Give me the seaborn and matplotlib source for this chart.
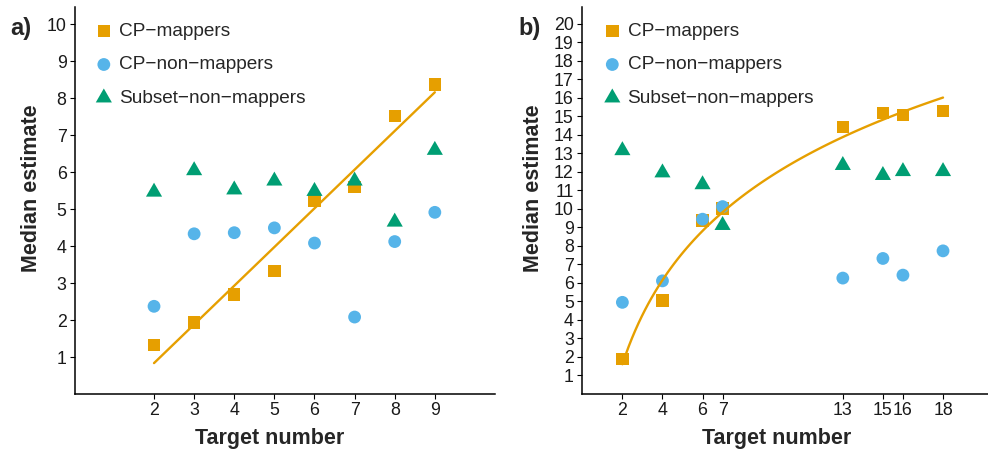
import numpy as np
import pandas as pd
import matplotlib
matplotlib.use("Agg")
import matplotlib.pyplot as plt
import seaborn as sns

# ---------------- data ----------------
groups = ["CP\u2212mappers", "CP\u2212non\u2212mappers", "Subset\u2212non\u2212mappers"]

a_targets = [2, 3, 4, 5, 6, 7, 8, 9]
a_cp_mappers = [1.32, 1.93, 2.69, 3.33, 5.22, 5.59, 7.51, 8.37]
a_cp_non_mappers = [2.37, 4.33, 4.36, 4.49, 4.08, 2.08, 4.12, 4.91]
a_subset_non_mappers = [5.46, 6.04, 5.52, 5.76, 5.48, 5.76, 4.65, 6.59]

b_targets = [2, 4, 6, 7, 13, 15, 16, 18]
b_cp_mappers = [1.88, 5.06, 9.38, 10.01, 14.43, 15.19, 15.08, 15.29]
b_cp_non_mappers = [4.95, 6.11, 9.44, 10.12, 6.26, 7.32, 6.42, 7.73]
b_subset_non_mappers = [13.15, 11.95, 11.31, 9.11, 12.35, 11.81, 12.02, 12.02]

a_xticks = [2, 3, 4, 5, 6, 7, 8, 9]
a_yticks = list(range(1, 11))
b_xticks = [2, 4, 6, 7, 13, 15, 16, 18]
b_yticks = list(range(1, 21))

# ---------------- style ----------------
sns.set_style("ticks")
plt.rcParams["font.family"] = ["Liberation Sans", "DejaVu Sans"]

ORANGE = "#E69F00"
BLUE = "#56B4E9"
GREEN = "#009E73"
TRI = [(0.0, 1.0), (-0.866, -0.5), (0.866, -0.5)]  # centroid-centred triangle

styles = {
    groups[0]: dict(color=ORANGE, marker="s", s=80),
    groups[1]: dict(color=BLUE, marker="o", s=85),
    groups[2]: dict(color=GREEN, marker=TRI, s=180),
}

W, H = 988, 454
fig = plt.figure(figsize=(W / 100, H / 100), dpi=100)
ax_a = fig.add_axes([75 / W, (H - 394) / H, 420 / W, 387 / H])
ax_b = fig.add_axes([582.3 / W, (H - 394) / H, (W - 582.3) / W, 387 / H])


def panel(ax, x, series, logx, xlim, ylim, xticks, yticks, xl_x, yl_x, leg_x):
    for name, vals in zip(groups, series):
        st = styles[name]
        sns.scatterplot(x=x, y=vals, ax=ax, color=st["color"], marker=st["marker"],
                        s=st["s"], linewidth=0, edgecolor="none", label=name,
                        zorder=3, clip_on=False)
    sns.regplot(x=np.array(x, dtype=float), y=np.array(series[0], dtype=float), ax=ax,
                scatter=False, ci=None, logx=logx, truncate=True, color=ORANGE,
                line_kws=dict(lw=1.7, zorder=5))
    ax.set_xlim(*xlim)
    ax.set_ylim(*ylim)
    ax.set_xticks(xticks)
    ax.set_yticks(yticks)
    ax.set_xticklabels([str(t) for t in xticks])
    ax.set_yticklabels([str(t) for t in yticks])
    for sp in ["top", "right"]:
        ax.spines[sp].set_visible(False)
    for sp in ["left", "bottom"]:
        ax.spines[sp].set_linewidth(1.1)
        ax.spines[sp].set_color("black")
    ax.tick_params(axis="both", direction="out", length=3.5, width=0.8, color="black",
                   labelsize=12.8, labelcolor="#1a1a1a", pad=2.6)
    ax.set_xlabel("Target number", fontsize=15.5, fontweight="bold")
    ax.set_ylabel("Median estimate", fontsize=15.5, fontweight="bold")
    ax.xaxis.label.set_va("center")
    ax.yaxis.label.set_va("center")
    ax.xaxis.set_label_coords(xl_x, -0.116)
    ax.yaxis.set_label_coords(yl_x, 0.532)
    ax.legend(loc="upper left", bbox_to_anchor=(leg_x, 0.959), frameon=False,
              fontsize=13.7, handlelength=1.0, handletextpad=0.3, labelspacing=0.84,
              borderpad=0, borderaxespad=0, markerscale=1.0)


panel(ax_a, a_targets, [a_cp_mappers, a_cp_non_mappers, a_subset_non_mappers], False,
      (0.03, 10.5), (0, 10.46), a_xticks, a_yticks, 0.464, -0.103, 0.046)
panel(ax_b, b_targets, [b_cp_mappers, b_cp_non_mappers, b_subset_non_mappers], True,
      (0.0, (W - 582.3) / 20.04), (0, 20.9), b_xticks, b_yticks, 0.48, -0.1215, 0.0505)

fig.text(10 / W, 1 - 28 / H, "a)", fontsize=17, fontweight="bold", ha="left", va="center")
fig.text(518 / W, 1 - 28 / H, "b)", fontsize=17, fontweight="bold", ha="left", va="center")

fig.savefig("out.png", dpi=100)
